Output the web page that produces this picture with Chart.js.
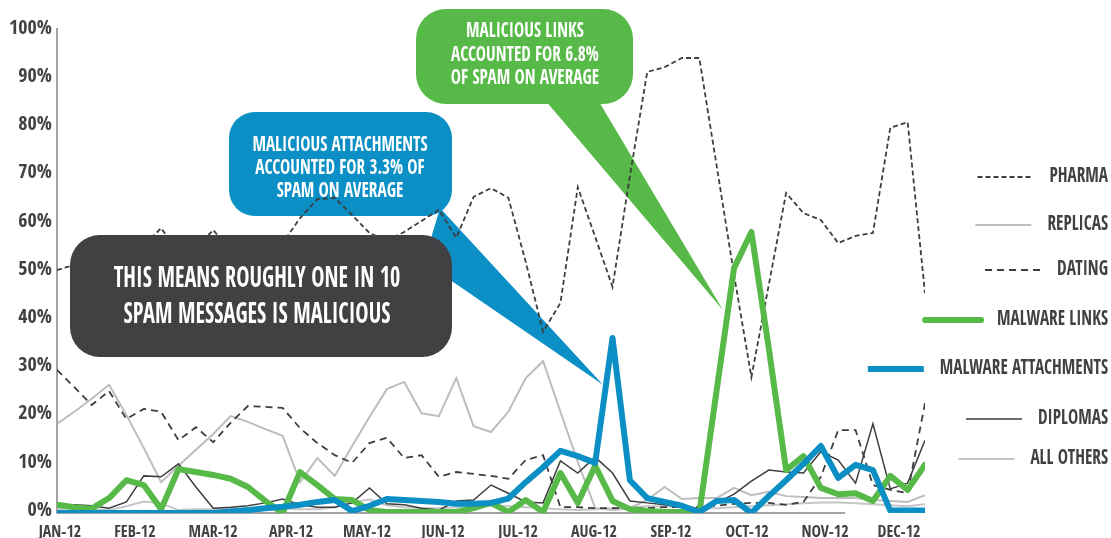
<!DOCTYPE html>
<html>
<head>
<meta charset="utf-8">
<title>Spam by category, 2012</title>
<script src="https://cdn.jsdelivr.net/npm/chart.js@4.4.1/dist/chart.umd.min.js"></script>
<style>
  html, body { margin: 0; padding: 0; background: #ffffff; }
  #wrap { width: 1111px; height: 538px; }
</style>
</head>
<body>
<div id="wrap"><canvas id="spamChart" width="1111" height="538"></canvas></div>
<script>
// --- data: weekly share of spam per category in 2012 (week 0 = first week of January) ---
const weeks = [0, 1, 2, 3, 4, 5, 6, 7, 8, 9, 10, 11, 12, 13, 14, 15, 16, 17, 18, 19, 20, 21, 22, 23, 24,
  25, 26, 27, 28, 29, 30, 31, 32, 33, 34, 35, 36, 37, 38, 39, 40, 41, 42, 43, 44, 45, 46, 47, 48, 49, 50];

const monthTicks = [0.17, 4.49, 8.99, 13.48, 17.86, 22.24, 26.56, 30.93, 35.37, 39.75, 44.24, 48.5];
const monthLabels = ['JAN-12', 'FEB-12', 'MAR-12', 'APR-12', 'MAY-12', 'JUN-12',
  'JUL-12', 'AUG-12', 'SEP-12', 'OCT-12', 'NOV-12', 'DEC-12'];
const percentTicks = [0, 10, 20, 30, 40, 50, 60, 70, 80, 90, 100];

const pharma = [50.4, 51.5, 53, 52, 54, 55.5, 59.1, 54, 55, 58.7,
  54.5, 53, 54, 56, 61.2, 65.1, 65.4, 61.8, 58.1, 56.5,
  58.3, 60.6, 62.9, 57.1, 65.6, 67.4, 65.4, 52.1, 37.6, 43.6,
  67.6, 57.3, 46.9, 69.9, 91.5, 92.5, 94.4, 94.4, 72, 49.4,
  28.2, 47.3, 66.4, 62.2, 60.8, 56, 57.5, 58.1, 79.9, 81.1,
  45.6];
const replicas = [18.5, 21, 23.7, 26.6, 20.3, 13.5, 6.4, 9.8, 13.1, 16.4,
  20.1, 18.9, 17.4, 16, 6.4, 11.4, 7.7, 13.9, 19.9, 25.7,
  27.2, 20.7, 20.1, 28, 18, 16.8, 21, 28, 31.5, 21,
  10.6, 1, 0.6, 1, 2.7, 5.4, 2.9, 3.1, 3.1, 5.2,
  3.7, 4.4, 3.5, 3.3, 3.1, 3.1, 3.1, 2.7, 2.5, 2.3,
  3.7];
const dating = [29.7, 26.1, 22.4, 25.3, 19.5, 21.6, 21, 15.1, 17.8, 14.7,
  18.7, 22.2, 22, 21.8, 17.6, 14.5, 12, 10.4, 14.5, 15.6,
  11.4, 12, 7.5, 8.5, 8.1, 7.7, 7.1, 11, 12, 1.2,
  1.2, 1, 1, 1, 1, 1.2, 1.2, 1.2, 1.5, 1.9,
  2.1, 2.1, 1.7, 2.3, 7.5, 17.2, 17.2, 5.8, 4.8, 4.1,
  22.8];
const malwareLinks = [1.7, 1.2, 0.9, 3.1, 6.8, 5.8, 0.8, 9.1, 8.5, 7.9,
  7.1, 5.4, 2.5, 0, 8.5, 5.8, 2.9, 2.7, 0.6, 0.2,
  0.2, 0.2, 0.2, 0.2, 1, 2.1, 0.2, 2.7, 0.2, 8.3,
  2.1, 9.8, 2.5, 0.8, 0.4, 0.2, 0.2, 0, 25.5, 50.8,
  58.3, 34.2, 8.9, 11.8, 5.2, 3.9, 4.1, 2.5, 7.7, 4.8,
  10];
const malwareAttachments = [0, 0, 0, 0, 0, 0, 0, 0, 0, 0,
  0.3, 0.6, 1, 1.3, 1.7, 2.3, 2.7, 0.4, 1.5, 2.9,
  2.7, 2.5, 2.3, 1.9, 1.9, 2.1, 3, 6.4, 9.5, 12.9,
  11.8, 10.4, 36.3, 6.8, 3.1, 2.3, 1.5, 0.2, 2.5, 2.7,
  0, 3.5, 6.8, 10.2, 13.9, 7.3, 10, 8.9, 0.5, 0.5,
  0.5];
const diplomas = [1.7, 1.7, 1.5, 1, 2.3, 7.7, 7.5, 10.2, 5.4, 1,
  1.2, 1.5, 2.1, 2.9, 1.7, 1.2, 1.2, 2.1, 5.2, 1.9,
  1.7, 1, 0.6, 2.5, 2.7, 5.8, 4.1, 2.3, 2.1, 10.8,
  8.3, 11.6, 8.3, 2.5, 2.1, 1.7, 1.2, 1, 2.1, 3.9,
  6.6, 8.9, 8.5, 8.3, 12.7, 11, 6.2, 18.5, 5, 6.2,
  15.1];
const allOthers = [0.8, 1, 0.8, 0.6, 1.4, 2.4, 2, 0.6, 0.8, 0.8,
  1, 0.8, 1.2, 1, 0.8, 0.8, 1.2, 2.2, 2.8, 1.6,
  1.2, 1, 1, 1.2, 1.4, 1.6, 1.4, 1.2, 1, 0.8,
  0.6, 0.8, 1, 1.2, 1.4, 1.4, 1.2, 1, 1, 1.2,
  1.4, 1.6, 1.8, 2, 2.2, 2.2, 2, 1.8, 1.6, 1.4,
  1.8];

// --- styling ---
const FONT = '"Open Sans Condensed", "Roboto Condensed", sans-serif';
const INK = '#414042';
const GREEN = '#57b947';
const BLUE = '#0b8fc5';
const SQUEEZE = 0.82; // extra horizontal squeeze for the tall poster lettering

function series(values) {
  return weeks.map((w, i) => ({ x: w, y: values[i] }));
}

function condText(ctx, text, x, y, size, align, color, squeeze) {
  ctx.save();
  ctx.font = 'bold ' + size + 'px ' + FONT;
  ctx.fillStyle = color;
  ctx.textBaseline = 'middle';
  ctx.textAlign = align;
  ctx.translate(x, y);
  ctx.scale(squeeze || SQUEEZE, 1);
  ctx.fillText(text, 0, 0);
  ctx.restore();
}

function condWidth(ctx, text, size) {
  ctx.save();
  ctx.font = 'bold ' + size + 'px ' + FONT;
  const w = ctx.measureText(text).width * SQUEEZE;
  ctx.restore();
  return w;
}

function roundBox(ctx, x, y, w, h, r) {
  ctx.beginPath();
  ctx.moveTo(x + r, y);
  ctx.arcTo(x + w, y, x + w, y + h, r);
  ctx.arcTo(x + w, y + h, x, y + h, r);
  ctx.arcTo(x, y + h, x, y, r);
  ctx.arcTo(x, y, x + w, y, r);
  ctx.closePath();
}

// speech bubbles; tips are given in chart units (week, percent)
const callouts = [
  {
    layer: 'under', color: BLUE, box: [229, 112, 223, 104], radius: 26,
    wedge: [[440, 208], [424, 262]], tip: { x: 31.45, y: 26.6 },
    lines: ['MALICIOUS ATTACHMENTS', 'ACCOUNTED FOR 3.3% OF', 'SPAM ON AVERAGE'],
    textX: 340, textY: [146, 169, 192], size: 21
  },
  {
    layer: 'under', color: GREEN, box: [416, 9, 217, 95], radius: 30,
    wedge: [[545, 100], [598, 100]], tip: { x: 38.36, y: 42.1 },
    lines: ['MALICIOUS LINKS', 'ACCOUNTED FOR 6.8%', 'OF SPAM ON AVERAGE'],
    textX: 525, textY: [32, 56, 79], size: 21
  },
  {
    layer: 'over', color: INK, box: [70, 235, 382, 122], radius: 30,
    lines: ['THIS MEANS ROUGHLY ONE IN 10', 'SPAM MESSAGES IS MALICIOUS'],
    textX: 257, textY: [279, 315], size: 29, squeeze: 0.77
  }
];

function drawCallout(chart, c) {
  const ctx = chart.ctx;
  const { x: xs, y: ys } = chart.scales;
  ctx.save();
  ctx.fillStyle = c.color;
  if (c.wedge) {
    ctx.beginPath();
    ctx.moveTo(c.wedge[0][0], c.wedge[0][1]);
    ctx.lineTo(xs.getPixelForValue(c.tip.x), ys.getPixelForValue(c.tip.y));
    ctx.lineTo(c.wedge[1][0], c.wedge[1][1]);
    ctx.closePath();
    ctx.fill();
  }
  roundBox(ctx, c.box[0], c.box[1], c.box[2], c.box[3], c.radius);
  ctx.fill();
  ctx.restore();
  c.lines.forEach((t, i) => condText(ctx, t, c.textX, c.textY[i], c.size, 'center', '#ffffff', c.squeeze));
}

const legendRows = [177, 225, 270, 320, 369, 419, 459];

const decorPlugin = {
  id: 'spamDecor',
  beforeDatasetsDraw(chart) {
    const ctx = chart.ctx;
    const area = chart.chartArea;
    const xs = chart.scales.x;
    // axis lines (the baseline stops short of the last months)
    ctx.save();
    ctx.strokeStyle = '#858585';
    ctx.lineWidth = 1.5;
    ctx.beginPath();
    ctx.moveTo(area.left, 28);
    ctx.lineTo(area.left, area.bottom);
    ctx.lineTo(xs.getPixelForValue(45.4), area.bottom);
    ctx.stroke();
    ctx.restore();
    callouts.filter(c => c.layer === 'under').forEach(c => drawCallout(chart, c));
  },
  afterDatasetsDraw(chart) {
    const ctx = chart.ctx;
    callouts.filter(c => c.layer === 'over').forEach(c => drawCallout(chart, c));

    // legend: right-aligned names with a line sample in front
    const right = 1108;
    chart.data.datasets.forEach((ds, i) => {
      const y = legendRows[i];
      const w = condWidth(ctx, ds.label, 21);
      condText(ctx, ds.label, right, y, 21, 'right', INK);
      const end = right - w - 16;
      ctx.save();
      ctx.strokeStyle = ds.borderColor;
      ctx.lineWidth = ds.borderWidth;
      ctx.lineCap = ds.borderCapStyle || 'butt';
      ctx.setLineDash(ds.borderDash || []);
      ctx.beginPath();
      ctx.moveTo(end - 56, y);
      ctx.lineTo(end, y);
      ctx.stroke();
      ctx.restore();
    });
  }
};

const thin = { pointRadius: 0, tension: 0, fill: false };

new Chart(document.getElementById('spamChart').getContext('2d'), {
  type: 'line',
  data: {
    datasets: [
      { ...thin, label: 'PHARMA', data: series(pharma), borderColor: '#3e3e40', borderWidth: 1.8, borderDash: [5, 3], order: 2 },
      { ...thin, label: 'REPLICAS', data: series(replicas), borderColor: '#bdbdbd', borderWidth: 2, order: 5 },
      { ...thin, label: 'DATING', data: series(dating), borderColor: '#3e3e40', borderWidth: 1.8, borderDash: [7, 5], order: 3 },
      { ...thin, label: 'MALWARE LINKS', data: series(malwareLinks), borderColor: GREEN, borderWidth: 6, borderJoinStyle: 'round', borderCapStyle: 'round', order: 1 },
      { ...thin, label: 'MALWARE ATTACHMENTS', data: series(malwareAttachments), borderColor: BLUE, borderWidth: 6, borderJoinStyle: 'round', order: 0 },
      { ...thin, label: 'DIPLOMAS', data: series(diplomas), borderColor: '#3e3e40', borderWidth: 1.5, order: 4 },
      { ...thin, label: 'ALL OTHERS', data: series(allOthers), borderColor: '#c6c6c6', borderWidth: 2, order: 6 }
    ]
  },
  options: {
    responsive: false,
    animation: false,
    layout: { padding: { left: 0, right: 186, top: 31, bottom: 0 } },
    plugins: {
      legend: { display: false },
      tooltip: { enabled: false }
    },
    scales: {
      x: {
        type: 'linear',
        min: 0,
        max: 50,
        grid: { display: false, drawTicks: false },
        border: { display: false },
        afterBuildTicks: (scale) => { scale.ticks = monthTicks.map(v => ({ value: v })); },
        afterFit: (scale) => { scale.height = 25; },
        ticks: {
          autoSkip: false,
          maxRotation: 0,
          padding: 10,
          color: INK,
          font: { family: FONT, size: 16, weight: 'bold' },
          callback: (v, i) => monthLabels[i]
        }
      },
      y: {
        min: 0,
        max: 100,
        grid: { display: false, drawTicks: false },
        border: { display: false },
        afterBuildTicks: (scale) => { scale.ticks = percentTicks.map(v => ({ value: v })); },
        afterFit: (scale) => { scale.width = 57; },
        ticks: {
          padding: 5,
          labelOffset: -2.5,
          color: INK,
          font: { family: FONT, size: 20, weight: 'bold' },
          callback: (v) => v + '%'
        }
      }
    }
  },
  plugins: [decorPlugin]
});
</script>
</body>
</html>
